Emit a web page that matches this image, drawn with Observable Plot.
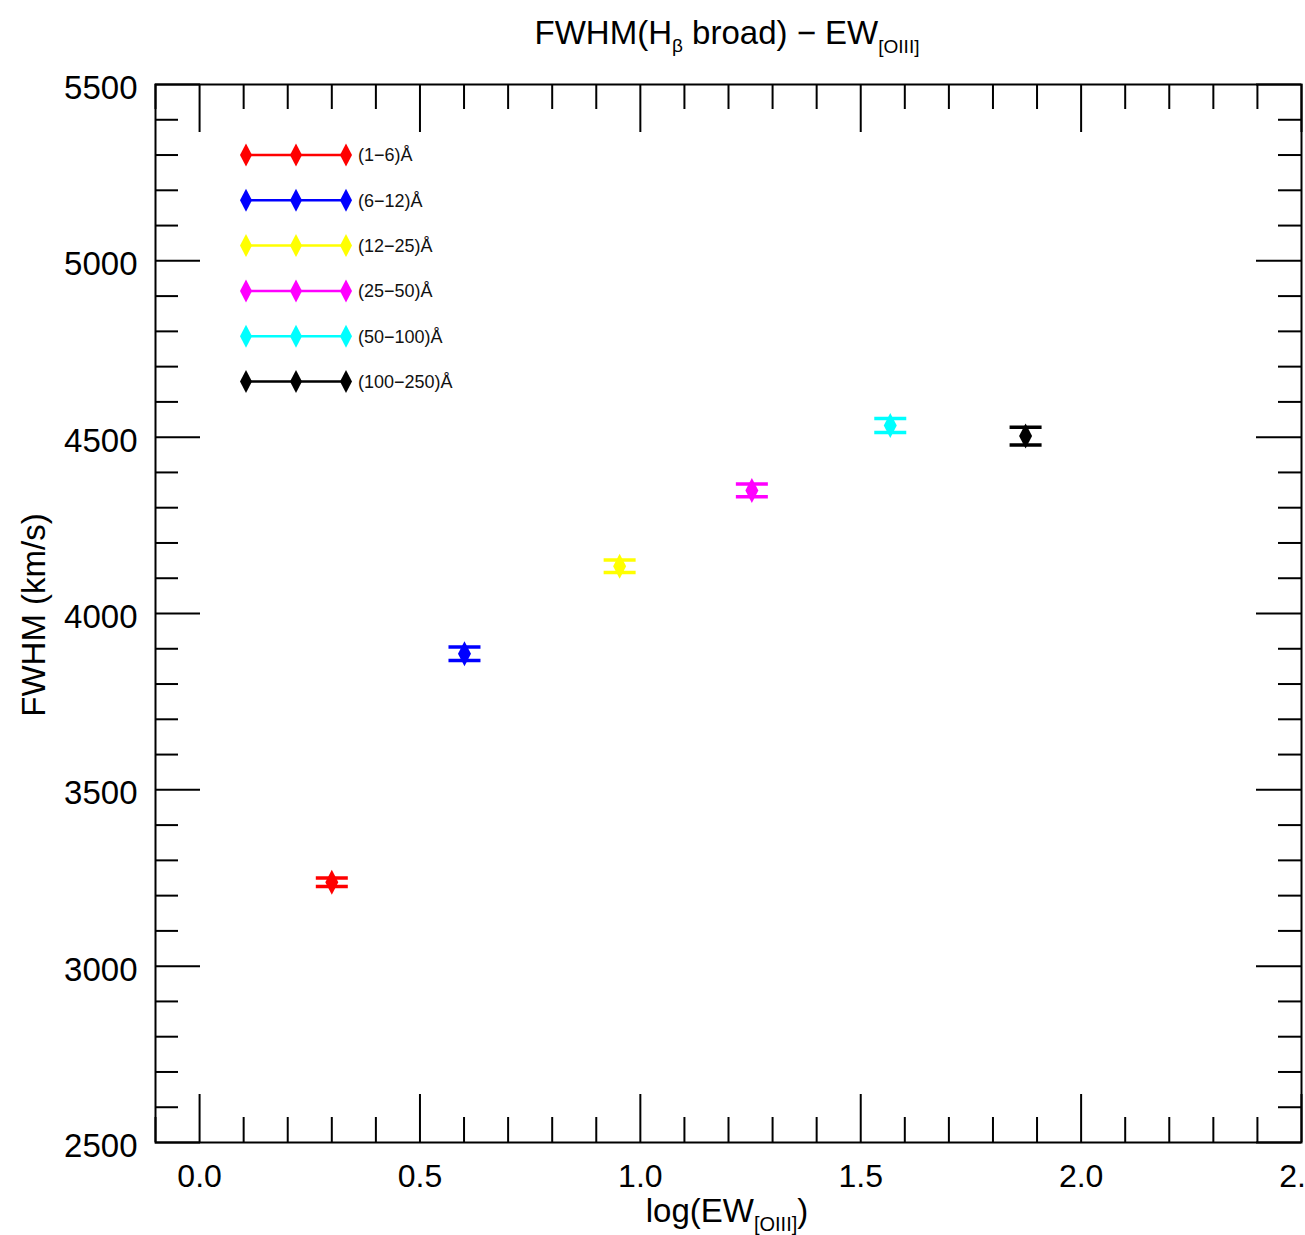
<!DOCTYPE html>
<html><head><meta charset="utf-8">
<script src="https://cdn.jsdelivr.net/npm/d3@7"></script>
<script src="https://cdn.jsdelivr.net/npm/@observablehq/plot@0.6"></script>
<style>
body{margin:0;background:#fff;overflow:hidden;}
#chart svg text{font-family:"Liberation Sans",Arial,Helvetica,sans-serif;}
</style>
</head><body><div id="chart"></div>
<script>
// ---- data ----
const categories = ["(1−6)Å","(6−12)Å","(12−25)Å","(25−50)Å","(50−100)Å","(100−250)Å"];
const colors = ["#ff0000","#0000ff","#ffff00","#ff00ff","#00ffff","#000000"];
const logEW = [0.300, 0.601, 0.953, 1.253, 1.567, 1.874];
const fwhm = [3238, 3886, 4134, 4349, 4533, 4503];
const fwhmErr = [12, 19, 18, 18, 20, 25];
const xMajorTicks = [0, 0.5, 1.0, 1.5, 2.0, 2.5];
const xTickLabels = ["0.0", "0.5", "1.0", "1.5", "2.0", "2.5"];
const yMajorTicks = [2500, 3000, 3500, 4000, 4500, 5000, 5500];
const yTickLabels = ["2500", "3000", "3500", "4000", "4500", "5000", "5500"];

const data = categories.map((c, i) => ({cat: c, color: colors[i], x: logEW[i], y: fwhm[i], lo: fwhm[i] - fwhmErr[i], hi: fwhm[i] + fwhmErr[i]}));
const xMinorTicks = d3.range(-1, 25).map(k => k / 10).filter(v => !xMajorTicks.some(t => Math.abs(t - v) < 1e-9));
const yMinorTicks = d3.range(2500, 5501, 100).filter(v => !yMajorTicks.includes(v));

// ---- layout ----
const W = 1305, H = 1235, mL = 155, mR = 4, mT = 84, mB = 93;
const plotW = W - mL - mR, plotH = H - mT - mB;
const majX = 48, minX = 25, majY = 45, minY = 23;

const diamond = {draw(ctx){ const w = 6.5, h = 12.5; ctx.moveTo(0,-h); ctx.lineTo(w,0); ctx.lineTo(0,h); ctx.lineTo(-w,0); ctx.closePath(); }};
const cap = {draw(ctx){ ctx.moveTo(-16,0); ctx.lineTo(16,0); }};

const tick = {stroke: "#000", strokeWidth: 2};
const plot = Plot.plot({
  width: W, height: H,
  marginLeft: mL, marginRight: mR, marginTop: mT, marginBottom: mB,
  style: {fontSize: "33px", fontFamily: "Liberation Sans, Arial, sans-serif", background: "#fff", color: "#000"},
  x: {domain: [-0.1, 2.5]},
  y: {domain: [2500, 5500]},
  color: {type: "identity"},
  marks: [
    // ticks on all four sides
    Plot.ruleX(xMajorTicks, {...tick, insetTop: plotH - majX}),
    Plot.ruleX(xMinorTicks, {...tick, insetTop: plotH - minX}),
    Plot.ruleX(xMajorTicks, {...tick, insetBottom: plotH - majX}),
    Plot.ruleX(xMinorTicks, {...tick, insetBottom: plotH - minX}),
    Plot.ruleY(yMajorTicks, {...tick, insetRight: plotW - majY}),
    Plot.ruleY(yMinorTicks, {...tick, insetRight: plotW - minY}),
    Plot.ruleY(yMajorTicks, {...tick, insetLeft: plotW - majY}),
    Plot.ruleY(yMinorTicks, {...tick, insetLeft: plotW - minY}),
    Plot.frame({stroke: "#000", strokeWidth: 2}),
    Plot.axisX(xMajorTicks, {anchor: "bottom", tickSize: 0, tickPadding: 22, fontSize: 32, label: null,
      tickFormat: d => xTickLabels[xMajorTicks.indexOf(d)]}),
    Plot.axisY(yMajorTicks, {anchor: "left", tickSize: 0, tickPadding: 18, fontSize: 33, label: null, dy: 4,
      tickFormat: d => yTickLabels[yMajorTicks.indexOf(d)]}),
    // error bars
    Plot.ruleX(data, {x: "x", y1: "lo", y2: "hi", stroke: "color", strokeWidth: 3}),
    Plot.dot(data, {x: "x", y: "lo", symbol: cap, fill: "none", stroke: "color", strokeWidth: 3.5}),
    Plot.dot(data, {x: "x", y: "hi", symbol: cap, fill: "none", stroke: "color", strokeWidth: 3.5}),
    Plot.dot(data, {x: "x", y: "y", symbol: diamond, fill: "color", stroke: "none"})
  ]
});
document.getElementById("chart").appendChild(plot);

const svg = d3.select(plot);
const ff = "Liberation Sans, Arial, sans-serif";

// title
const title = svg.append("text").attr("x", 727).attr("y", 44).attr("text-anchor", "middle")
  .attr("font-size", 33).attr("font-family", ff).attr("fill", "#000");
title.append("tspan").text("FWHM(H");
title.append("tspan").attr("font-size", 19).attr("dy", 8).text("β");
title.append("tspan").attr("dy", -8).text(" broad) − EW");
title.append("tspan").attr("font-size", 19).attr("dy", 9).text("[OIII]");

// x label
const xl = svg.append("text").attr("x", 727).attr("y", 1222).attr("text-anchor", "middle")
  .attr("font-size", 33).attr("font-family", ff).attr("fill", "#000");
xl.append("tspan").text("log(EW");
xl.append("tspan").attr("font-size", 20).attr("dy", 9).text("[OIII]");
xl.append("tspan").attr("dy", -9).text(")");

// y label
svg.append("text").attr("transform", "translate(45,615) rotate(-90)").attr("text-anchor", "middle")
  .attr("font-size", 33).attr("font-family", ff).attr("fill", "#000").text("FWHM (km/s)");

// legend
const lg = svg.append("g");
categories.forEach((c, i) => {
  const y = 155 + i * 45.3;
  const g = lg.append("g").attr("transform", `translate(0,${y})`);
  g.append("line").attr("x1", 246).attr("x2", 346).attr("y1", 0).attr("y2", 0).attr("stroke", colors[i]).attr("stroke-width", 2.5);
  [246, 296, 346].forEach(x => {
    g.append("path").attr("d", "M0,-11.5L6,0L0,11.5L-6,0Z").attr("transform", `translate(${x},0)`).attr("fill", colors[i]);
  });
  g.append("text").attr("x", 358).attr("y", 0).attr("dy", "0.36em").attr("text-anchor", "start").attr("font-size", 18)
    .attr("font-family", ff).attr("fill", "#111").text(c);
});
</script>
</body></html>
